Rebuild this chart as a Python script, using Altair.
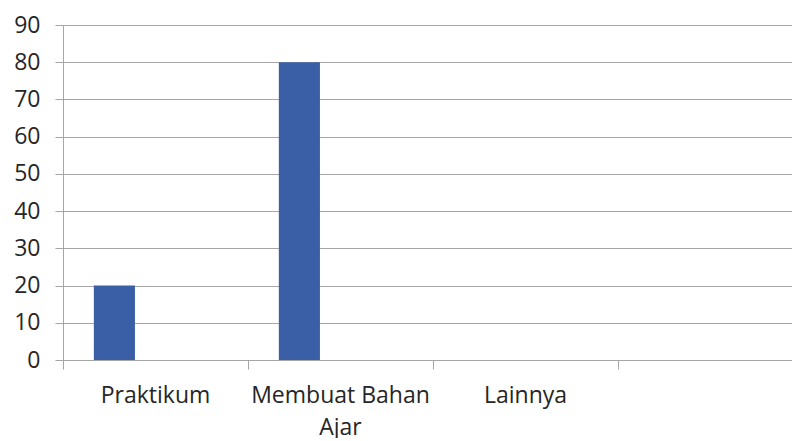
import altair as alt
import pandas as pd

# Categories (the last slot is an empty category with no label)
categories = ["Praktikum", "Membuat Bahan Ajar", "Lainnya", ""]
series_names = ["Seri 1", "Seri 2", "Seri 3"]

# Values of the first series per category
bar_categories = ["Praktikum", "Membuat Bahan Ajar", "Lainnya"]
bar_values = [20, 80, 0]

y_ticks = [0, 10, 20, 30, 40, 50, 60, 70, 80, 90]

df = pd.DataFrame({
    "kategori": bar_categories,
    "seri": [series_names[0]] * len(bar_categories),
    "nilai": bar_values,
})

FONT = "Open Sans"
GRID = "#a6a6a6"
TEXT = "#262626"

chart = (
    alt.Chart(df)
    .mark_bar(color="#3A5FA6")
    .encode(
        x=alt.X(
            "kategori:N",
            sort=categories,
            scale=alt.Scale(domain=categories, range=[0, 740], paddingInner=0, paddingOuter=0),
            axis=alt.Axis(
                title=None,
                labelAngle=0,
                bandPosition=0,
                labelBound=False,
                labelOverlap=False,
                labelLimit=400,
                labelFont=FONT,
                labelFontSize=23,
                labelColor=TEXT,
                labelPadding=15,
                labelLineHeight=32,
                labelExpr="datum.label == 'Membuat Bahan Ajar' ? ['Membuat Bahan', 'Ajar'] : datum.label",
                tickSize=9,
                tickColor=GRID,
                # the zero gridline of the value axis serves as the baseline
                domain=False,
                grid=False,
            ),
        ),
        xOffset=alt.XOffset(
            "seri:N",
            scale=alt.Scale(domain=series_names, paddingInner=0, paddingOuter=0.75),
        ),
        y=alt.Y(
            "nilai:Q",
            scale=alt.Scale(domain=[0, 90], nice=False),
            axis=alt.Axis(
                title=None,
                values=y_ticks,
                labelFont=FONT,
                labelFontSize=23,
                labelColor=TEXT,
                labelPadding=15,
                tickSize=8,
                tickColor=GRID,
                domainColor=GRID,
                gridColor=GRID,
                grid=True,
            ),
        ),
    )
    .properties(
        width=729,
        height=335,
        autosize=alt.AutoSizeParams(type="none"),
        padding={"left": 63, "top": 25, "right": 0, "bottom": 78},
    )
    .configure_view(stroke=None)
    .configure(background="white")
)

chart.save("out.html", embed_options={"renderer": "svg", "actions": False})
